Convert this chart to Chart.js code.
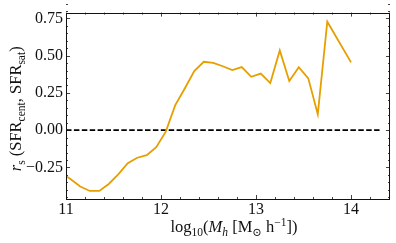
<!DOCTYPE html>
<html>
<head>
<meta charset="utf-8">
<script src="https://cdn.jsdelivr.net/npm/chart.js@4.4.0/dist/chart.umd.min.js"></script>
<style>
  html, body { margin: 0; padding: 0; background: #fff; }
  canvas { display: block; }
</style>
</head>
<body>
<canvas id="chart" width="396" height="243"></canvas>
<script>
// log10 halo mass bin centres and Spearman r between central / satellite SFR
const haloMass = [10.95, 11.05, 11.15, 11.25, 11.35, 11.45, 11.55, 11.65, 11.75, 11.85,
  11.95, 12.05, 12.15, 12.25, 12.35, 12.45, 12.55, 12.65, 12.75, 12.85,
  12.95, 13.05, 13.15, 13.25, 13.35, 13.45, 13.55, 13.65, 13.75, 14.0]
const spearmanR = [-0.285, -0.33, -0.378, -0.408, -0.408, -0.361, -0.296, -0.222, -0.185, -0.168,
  -0.114, -0.01, 0.168, 0.28, 0.397, 0.459, 0.451, 0.429, 0.403, 0.423,
  0.358, 0.38, 0.316, 0.535, 0.33, 0.423, 0.348, 0.107, 0.728, 0.455]

const zeroLineX = [11, 14.3]
const zeroLineY = [0, 0]

const xTicks = [11, 12, 13, 14]
const yTicks = [-0.25, 0, 0.25, 0.5, 0.75]

const SERIF = '"Liberation Serif", "DejaVu Serif", serif'
const INK = '#111'

function drawRich(ctx, parts, cx, baseY) {
  // parts: [text, size, dy, italic]
  const font = p => (p[3] ? 'italic ' : '') + p[1] + 'px ' + SERIF
  let total = 0
  parts.forEach(p => { ctx.font = font(p); total += ctx.measureText(p[0]).width })
  let x = cx - total / 2
  ctx.textBaseline = 'alphabetic'
  ctx.textAlign = 'left'
  parts.forEach(p => {
    ctx.font = font(p)
    ctx.fillText(p[0], x, baseY + p[2])
    x += ctx.measureText(p[0]).width
  })
}

const framePlugin = {
  id: 'frame',
  afterDraw(chart) {
    const { ctx, chartArea: a } = chart
    const x = chart.scales.x
    const y = chart.scales.y
    ctx.save()
    ctx.strokeStyle = INK
    ctx.lineWidth = 0.8
    ctx.beginPath()
    const vTick = (v, len) => {
      const px = Math.round(x.getPixelForValue(v)) + 0.5
      ctx.moveTo(px, a.bottom); ctx.lineTo(px, a.bottom - len)
      ctx.moveTo(px, a.top); ctx.lineTo(px, a.top + len)
    }
    const hTick = (v, len) => {
      const py = Math.round(y.getPixelForValue(v)) + 0.5
      ctx.moveTo(a.left, py); ctx.lineTo(a.left + len, py)
      ctx.moveTo(a.right, py); ctx.lineTo(a.right - len, py)
    }
    for (let i = 0; 11 + i * 0.2 <= x.max; i++) {
      const v = 11 + i * 0.2
      vTick(v, i % 5 === 0 ? 4 : 2)
    }
    for (let i = -9; -0.5 + i * 0.05 <= y.max; i++) {
      const v = i * 0.05
      if (v < y.min) continue
      hTick(v, i % 5 === 0 ? 4 : 2)
    }
    ctx.stroke()

    ctx.lineWidth = 1
    ctx.strokeRect(Math.round(a.left) + 0.5, Math.round(a.top) + 0.5,
      Math.round(a.right - a.left) - 1, Math.round(a.bottom - a.top))

    ctx.fillStyle = INK
    drawRich(ctx, [
      ['log', 16.5, 0], ['10', 11.5, 4], ['(', 16.5, 0], ['M', 16.5, 0, true], ['h', 11.5, 4, true],
      [' [M', 16.5, 0], ['\u2299', 11.5, 4], [' h', 16.5, 0], ['\u22121', 11.5, -6.5], ['])', 16.5, 0]
    ], (a.left + a.right) / 2 + 6, 232)

    ctx.translate(21, (a.top + a.bottom) / 2 + 3)
    ctx.rotate(-Math.PI / 2)
    drawRich(ctx, [
      ['r', 16.5, 0, true], ['s', 11.5, 4], [' (SFR', 16.5, 0], ['cent', 11.5, 4],
      [', SFR', 16.5, 0], ['sat', 11.5, 4], [')', 16.5, 0]
    ], 0, 0)
    ctx.restore()
  }
}

new Chart(document.getElementById('chart').getContext('2d'), {
  type: 'line',
  data: {
    datasets: [
      {
        label: 'r_s',
        data: haloMass.map((m, i) => ({ x: m, y: spearmanR[i] })),
        borderColor: '#e69f00',
        borderWidth: 1.8,
        pointRadius: 0,
        tension: 0,
      },
      {
        label: 'zero',
        data: zeroLineX.map((m, i) => ({ x: m, y: zeroLineY[i] })),
        borderColor: '#000',
        borderWidth: 1.6,
        borderDash: [5.5, 2.4],
        pointRadius: 0,
      },
    ],
  },
  options: {
    responsive: false,
    animation: false,
    devicePixelRatio: 1,
    layout: { padding: { top: 5, right: 6, left: 0, bottom: 0 } },
    plugins: { legend: { display: false }, tooltip: { enabled: false } },
    scales: {
      x: {
        type: 'linear',
        min: 11,
        max: 14.41,
        afterBuildTicks: s => { s.ticks = xTicks.map(v => ({ value: v })) },
        afterFit: s => { s.height = 44 },
        grid: { display: false, drawTicks: false },
        border: { display: false },
        ticks: {
          padding: 1,
          color: INK,
          font: { family: SERIF, size: 16 },
          callback: v => String(v),
        },
      },
      y: {
        type: 'linear',
        min: -0.462,
        max: 0.789,
        afterBuildTicks: s => { s.ticks = yTicks.map(v => ({ value: v })) },
        afterFit: s => { s.width = 66 },
        grid: { display: false, drawTicks: false },
        border: { display: false },
        ticks: {
          padding: 3,
          color: INK,
          font: { family: SERIF, size: 16 },
          callback: v => v.toFixed(2).replace('-', '\u2212'),
        },
      },
    },
  },
  plugins: [framePlugin],
})
</script>
</body>
</html>
